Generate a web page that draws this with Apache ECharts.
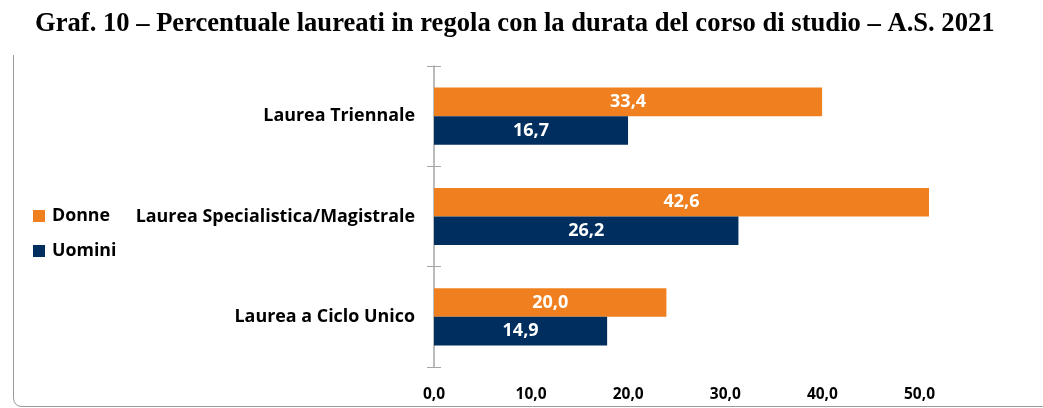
<!DOCTYPE html>
<html lang="it">
<head>
    <meta charset="UTF-8">
    <title>Graf. 10</title>
    <script src="https://cdn.jsdelivr.net/npm/echarts@6/dist/echarts.min.js"></script>
    <style>
        html, body {
            margin: 0;
            padding: 0;
            background: #fff;
        }
        #main {
            width: 1043px;
            height: 408px;
        }
    </style>
</head>
<body>
<div id="main"></div>
<script>
    var categories = ['Laurea Triennale', 'Laurea Specialistica/Magistrale', 'Laurea a Ciclo Unico'];
    var donne = [33.4, 42.6, 20.0];
    var uomini = [16.7, 26.2, 14.9];
    var tickLabels = [0, 10, 20, 30, 40, 50];

    var font = '"Open Sans", "Noto Sans", sans-serif';
    var fmt = function (v) {
        return Number(v).toFixed(1).replace('.', ',');
    };

    var barLabel = {
        show: true,
        position: 'inside',
        color: '#fff',
        fontFamily: font,
        fontWeight: 'bold',
        fontSize: 18,
        formatter: function (p) { return fmt(p.value); }
    };

    var chart = echarts.init(document.getElementById('main'));
    chart.setOption({
        animation: false,
        title: {
            text: 'Graf. 10 – Percentuale laureati in regola con la durata del corso di studio – A.S. 2021',
            left: 30,
            top: 6,
            textStyle: {
                fontFamily: '"Liberation Serif", "Times New Roman", serif',
                fontWeight: 'bold',
                fontSize: 26.6,
                color: '#000'
            }
        },
        legend: {
            orient: 'vertical',
            left: 28,
            top: 202,
            itemWidth: 12,
            itemHeight: 12,
            itemGap: 17,
            icon: 'rect',
            data: ['Donne', 'Uomini'],
            textStyle: {
                fontFamily: font,
                fontWeight: 'bold',
                fontSize: 17.8,
                color: '#000',
                padding: [0, 0, 0, 2]
            }
        },
        graphic: [{
            type: 'polyline',
            shape: {
                points: [[13.5, 55], [13.5, 398], [14.2, 401.8], [16.2, 404.6], [19, 406.1], [22, 406.5], [1043, 406.5]]
            },
            style: { fill: null, stroke: '#9a9a9a', lineWidth: 1 }
        }],
        grid: [
            { left: 434, right: 28, top: 66, bottom: 41 },
            // the tick labels in the original sit on a narrower spacing than the bars
            { left: 434, right: 123.5, top: 66, bottom: 41 }
        ],
        xAxis: [{
            gridIndex: 0,
            type: 'value',
            min: 0,
            max: 50,
            axisLine: { show: false },
            axisTick: { show: false },
            axisLabel: { show: false },
            splitLine: { show: false }
        }, {
            gridIndex: 1,
            type: 'value',
            min: tickLabels[0],
            max: tickLabels[tickLabels.length - 1],
            interval: 10,
            axisLine: { show: false },
            axisTick: { show: false },
            splitLine: { show: false },
            axisLabel: {
                margin: 20,
                color: '#000',
                fontFamily: font,
                fontWeight: 'bold',
                fontSize: 15.5,
                formatter: fmt
            }
        }],
        yAxis: [{
            gridIndex: 0,
            type: 'category',
            inverse: true,
            data: categories,
            axisLine: { show: true, lineStyle: { color: '#a6a6a6', width: 1.5 } },
            axisTick: { show: true, length: 7, lineStyle: { color: '#a6a6a6' } },
            axisLabel: {
                margin: 19,
                color: '#000',
                fontFamily: font,
                fontWeight: 'bold',
                fontSize: 17.9
            }
        }, {
            gridIndex: 0,
            type: 'category',
            position: 'left',
            inverse: true,
            data: categories,
            axisLine: { show: false },
            axisLabel: { show: false },
            axisTick: { show: true, inside: true, length: 7, lineStyle: { color: '#a6a6a6' } }
        }, {
            gridIndex: 1,
            type: 'category',
            show: false,
            data: categories
        }],
        series: [{
            name: 'Donne',
            type: 'bar',
            xAxisIndex: 0,
            yAxisIndex: 0,
            data: donne,
            barGap: '0%',
            barCategoryGap: '43%',
            itemStyle: { color: '#F0801F' },
            label: barLabel
        }, {
            name: 'Uomini',
            type: 'bar',
            xAxisIndex: 0,
            yAxisIndex: 0,
            data: uomini,
            barGap: '0%',
            barCategoryGap: '43%',
            itemStyle: { color: '#002F5F' },
            label: barLabel
        }]
    });
</script>
</body>
</html>
